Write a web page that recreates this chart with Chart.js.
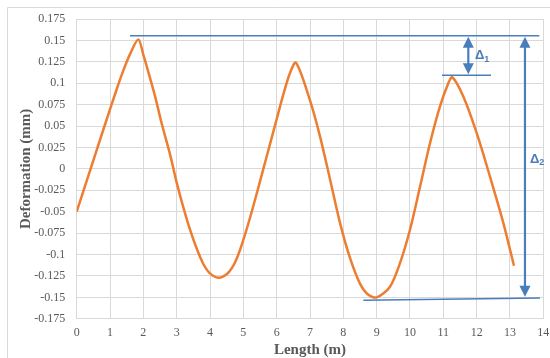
<!DOCTYPE html>
<html>
<head>
<meta charset="utf-8">
<script src="https://cdn.jsdelivr.net/npm/chart.js@4/dist/chart.umd.min.js"></script>
<style>
    html, body { margin: 0; padding: 0; background: #fff; }
</style>
</head>
<body>
<canvas id="deformationChart" width="550" height="358"></canvas>
<script>
// values
const lengthM = [0, 0.4, 0.8, 1.2, 1.4, 1.6, 1.85, 2.0, 2.15, 2.35, 2.55, 2.8, 3.0, 3.2, 3.4, 3.6, 3.8, 4.0, 4.25, 4.5, 4.7, 4.85,
    5.0, 5.2, 5.4, 5.6, 5.8, 6.0, 6.2, 6.4, 6.58, 7.0, 7.3, 7.6, 7.9, 8.2, 8.5, 8.75, 9.0,
    9.4, 9.7, 10.0, 10.3, 10.6, 10.9, 11.15, 11.27, 11.6, 12.0, 12.4, 12.8, 13.12];
const deformationMm = [-0.05, -0.002, 0.046, 0.093, 0.115, 0.134, 0.151, 0.133, 0.113, 0.085, 0.053, 0.017, -0.016, -0.045, -0.071, -0.093, -0.111, -0.122, -0.127, -0.123, -0.113, -0.1,
    -0.083, -0.057, -0.029, 0.0, 0.029, 0.058, 0.087, 0.112, 0.124, 0.08, 0.038, -0.012, -0.063, -0.104, -0.134, -0.147, -0.150,
    -0.1375, -0.110, -0.071, -0.021, 0.030, 0.073, 0.100, 0.107, 0.0845, 0.042, -0.009, -0.063, -0.113];

// reference lines: [x1, y1, x2, y2]
const refLines = [
    [1.6, 0.1555, 13.88, 0.1555],
    [10.96, 0.1094, 12.43, 0.1094],
    [8.6, -0.1533, 13.9, -0.1507],
];
// double arrows: [x, yTop, yBottom]
const deltaArrows = [
    [11.75, 0.1555, 0.1094],
    [13.45, 0.1555, -0.1505],
];
// labels: [x, y, subscript]
const deltaLabels = [
    [11.95, 0.128, '1'],
    [13.6, 0.007, '2'],
];

const blue = '#4a7ebb';
const gray = '#595959';
const serif = "'Liberation Serif', 'Times New Roman', serif";

const annotations = {
    id: 'annotations',
    beforeDraw(chart) {
        const ctx = chart.ctx;
        ctx.save();
        ctx.fillStyle = '#fff';
        ctx.fillRect(0, 0, chart.width, chart.height);
        ctx.strokeStyle = '#d9d9d9';
        ctx.lineWidth = 1;
        ctx.beginPath();
        ctx.moveTo(7.5, chart.height);
        ctx.lineTo(7.5, 7.5);
        ctx.lineTo(chart.width, 7.5);
        ctx.stroke();
        ctx.restore();
    },
    afterDatasetsDraw(chart) {
        const ctx = chart.ctx;
        const x = chart.scales.x;
        const y = chart.scales.y;
        ctx.save();
        ctx.strokeStyle = blue;
        ctx.fillStyle = blue;

        ctx.lineWidth = 1.6;
        refLines.forEach(([x1, y1, x2, y2]) => {
            ctx.beginPath();
            ctx.moveTo(x.getPixelForValue(x1), y.getPixelForValue(y1));
            ctx.lineTo(x.getPixelForValue(x2), y.getPixelForValue(y2));
            ctx.stroke();
        });

        const head = 11;
        const half = 5.5;
        deltaArrows.forEach(([ax, yTop, yBot]) => {
            const px = x.getPixelForValue(ax);
            const top = y.getPixelForValue(yTop) + 1;
            const bot = y.getPixelForValue(yBot) - 1;
            ctx.lineWidth = 2.2;
            ctx.beginPath();
            ctx.moveTo(px, top + head - 1);
            ctx.lineTo(px, bot - head + 1);
            ctx.stroke();
            ctx.beginPath();
            ctx.moveTo(px, top);
            ctx.lineTo(px - half, top + head);
            ctx.lineTo(px + half, top + head);
            ctx.closePath();
            ctx.fill();
            ctx.beginPath();
            ctx.moveTo(px, bot);
            ctx.lineTo(px - half, bot - head);
            ctx.lineTo(px + half, bot - head);
            ctx.closePath();
            ctx.fill();
        });

        ctx.textBaseline = 'alphabetic';
        ctx.textAlign = 'left';
        deltaLabels.forEach(([lx, ly, sub]) => {
            const px = x.getPixelForValue(lx);
            const py = y.getPixelForValue(ly);
            ctx.font = "bold 13px 'Liberation Sans', Arial, sans-serif";
            ctx.fillText('Δ', px, py);
            const w = ctx.measureText('Δ').width;
            ctx.font = "bold 9px 'Liberation Sans', Arial, sans-serif";
            ctx.fillText(sub, px + w, py + 2.5);
        });
        ctx.restore();
    },
};

const canvas = document.getElementById('deformationChart');

new Chart(canvas, {
    type: 'scatter',
    data: {
        datasets: [
            {
                data: lengthM.map((v, i) => ({ x: v, y: deformationMm[i] })),
                showLine: true,
                borderColor: '#ed7d31',
                borderWidth: 2.5,
                pointRadius: 0,
                tension: 0.3,
                fill: false,
            },
        ],
    },
    options: {
        responsive: false,
        animation: false,
        layout: { padding: { left: 0, right: 6.7, top: 19, bottom: 0 } },
        plugins: {
            legend: { display: false },
            tooltip: { enabled: false },
        },
        scales: {
            x: {
                type: 'linear',
                min: 0,
                max: 14,
                ticks: {
                    stepSize: 1,
                    padding: 7,
                    color: gray,
                    font: { family: serif, size: 12 },
                },
                grid: { color: '#d9d9d9', drawTicks: false },
                border: { display: false },
                title: {
                    display: true,
                    text: 'Length (m)',
                    color: gray,
                    font: { family: serif, size: 15, weight: 'bold', lineHeight: 1.07 },
                    padding: { top: 0, bottom: 0 },
                },
                afterFit: (s) => {
                    s.height = 39.2;
                    s.paddingLeft = 0;
                    s.paddingRight = 0;
                },
            },
            y: {
                min: -0.175,
                max: 0.175,
                ticks: {
                    stepSize: 0.025,
                    padding: 11.5,
                    color: gray,
                    font: { family: serif, size: 12 },
                    callback: (v) => String(parseFloat(v.toFixed(3))),
                },
                grid: { color: '#d9d9d9', drawTicks: false },
                border: { display: false },
                title: {
                    display: true,
                    text: 'Deformation (mm)',
                    color: gray,
                    font: { family: serif, size: 15, weight: 'bold', lineHeight: 1.2 },
                    padding: { top: 17, bottom: 0 },
                },
                afterFit: (s) => {
                    s.width = 76.7;
                    s.paddingTop = 0;
                    s.paddingBottom = 0;
                },
            },
        },
    },
    plugins: [annotations],
});
</script>
</body>
</html>
